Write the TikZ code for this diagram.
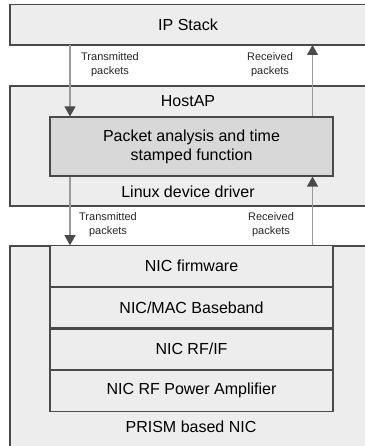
\documentclass[tikz,border=0pt]{standalone}
\usepackage{fontspec}
\setmainfont{Liberation Sans}
\usetikzlibrary{arrows.meta}
\definecolor{boxgray}{HTML}{EDEDED}
\definecolor{pktgray}{HTML}{D8D8D8}
\definecolor{edgegray}{HTML}{4A4A4A}
\definecolor{linegray}{HTML}{9A9A9A}
\tikzset{
  layer/.style={draw=edgegray,line width=1.1pt,fill=boxgray},
  part/.style={layer,minimum width=283pt,minimum height=40.5pt,inner sep=0pt,font=\fontsize{16}{18}\selectfont},
  big/.style={font=\fontsize{16}{18}\selectfont},
  small/.style={font=\fontsize{11}{14}\selectfont,align=center,text=black!85},
  flow/.style={draw=linegray,line width=1.2pt,-{Triangle[length=10pt,width=11pt,color=edgegray,fill=edgegray]}}
}
\begin{document}
\begin{tikzpicture}[x=1pt,y=-1pt]
\useasboundingbox (0,0) rectangle (364,446);
% outer layers, right and bottom edges run off the page
\draw[layer] (10,4.5) rectangle (366,45);
\draw[layer] (10,86) rectangle (366,206);
\draw[layer] (10,246) rectangle (366,448);
\node[big] (ip) at (188,25) {IP Stack};
\node[big] (hostap) at (188,101) {HostAP};
\node[big] (driver) at (188,192) {Linux device driver};
\node[big] (prism) at (191,427) {PRISM based NIC};
% time stamping block
\node[part,fill=pktgray,minimum height=59pt,align=center] (pkt) at (191.5,146.5) {Packet analysis and time\\[1pt]stamped function};
% NIC stack
\node[part] (fw) at (191.5,266) {NIC firmware};
\node[part,anchor=north] (mac) at (fw.south) {NIC/MAC Baseband};
\node[part,anchor=north] (rf) at (mac.south) {NIC RF/IF};
\node[part,anchor=north] (amp) at (rf.south) {NIC RF Power Amplifier};
% packet flows
\coordinate (tx) at (70,0);
\coordinate (rx) at (312.5,0);
\draw[flow] (tx |- 0,45) -- (tx |- pkt.north);
\draw[flow] (rx |- pkt.north) -- (rx |- 0,45);
\draw[flow] (tx |- pkt.south) -- (tx |- fw.north);
\draw[flow] (rx |- fw.north) -- (rx |- pkt.south);
\node[small] (txa) at (110,65) {Transmitted\\packets};
\node[small] (rxa) at (270,65) {Received\\packets};
\node[small] (txb) at (108,225) {Transmitted\\packets};
\node[small] (rxb) at (271,225) {Received\\packets};
\end{tikzpicture}
\end{document}
